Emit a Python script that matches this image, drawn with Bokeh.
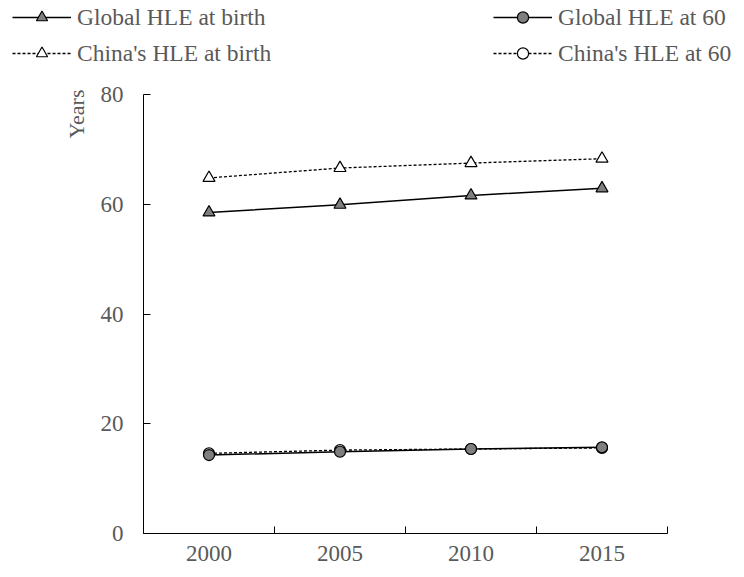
from bokeh.plotting import figure
from bokeh.models import Range1d, FixedTicker, Legend, LegendItem, Title
from bokeh.embed import file_html
from bokeh.resources import INLINE

years = [2000, 2005, 2010, 2015]
minor_bounds = [1997.5, 2002.5, 2007.5, 2012.5, 2017.5]
global_birth = [58.5, 59.9, 61.6, 62.9]
china_birth = [64.8, 66.6, 67.5, 68.3]
global_60 = [14.3, 14.9, 15.4, 15.7]
china_60 = [14.6, 15.2, 15.4, 15.6]
y_ticks = [0, 20, 40, 60, 80]
labels = ["Global HLE at birth", "China's HLE at birth",
          "Global HLE at 60", "China's HLE at 60"]

FONT = "Liberation Serif, Times New Roman, serif"
TXT = "#595959"
GREY = "#7f7f7f"
DASH = "3 2"

p = figure(width=728, height=489, output_backend="svg", toolbar_location=None,
           x_range=Range1d(1997.5, 2017.5), y_range=Range1d(0, 80),
           min_border_left=143, min_border_right=61, min_border_top=14,
           min_border_bottom=36)
p.outline_line_color = None
p.grid.visible = False

xa = p.xaxis[0]
xa.ticker = FixedTicker(ticks=years, minor_ticks=minor_bounds)
xa.major_tick_in = 0
xa.major_tick_out = 0
xa.minor_tick_in = 7
xa.minor_tick_out = 0
xa.minor_tick_line_color = "black"
xa.axis_line_color = "black"
xa.major_label_text_font = FONT
xa.major_label_text_font_size = "23px"
xa.major_label_text_color = TXT
xa.major_label_standoff = 12

ya = p.yaxis[0]
ya.ticker = FixedTicker(ticks=y_ticks)
ya.major_tick_in = 7
ya.major_tick_out = 0
ya.minor_tick_in = 0
ya.minor_tick_out = 0
ya.axis_line_color = "black"
ya.major_tick_line_color = "black"
ya.major_label_text_font = FONT
ya.major_label_text_font_size = "23px"
ya.major_label_text_color = TXT
ya.major_label_standoff = 20

p.add_layout(Title(text="Years", align="right", text_font=FONT, text_font_size="22px",
                   text_font_style="normal", text_color=TXT, standoff=18, offset=-5),
             "left")


def draw(fig, xs, ys, dashed, marker, filled):
    ln = fig.line(xs, ys, line_color="black", line_width=1.3 if dashed else 1.5,
                  line_dash=DASH if dashed else "solid")
    mk = fig.scatter(xs, ys, marker=marker, size=12 if marker == "triangle" else 11,
                     fill_color=GREY if filled else "white", line_color="black",
                     line_width=1.2)
    return [ln, mk]


draw(p, years, china_birth, True, "triangle", False)
draw(p, years, global_birth, False, "triangle", True)
draw(p, years, china_60, True, "circle", False)
draw(p, years, global_60, False, "circle", True)

# legend strip above the chart (separate root so its frame spans the full width);
# the series are drawn there outside the visible range, only to feed the legend
lf = figure(width=744, height=80, output_backend="svg", toolbar_location=None,
            title=None, x_range=Range1d(0, 1), y_range=Range1d(0, 1),
            x_axis_location=None, y_axis_location=None,
            min_border_left=0, min_border_right=0, min_border_top=0, min_border_bottom=0)
lf.outline_line_color = None
lf.grid.visible = False

r_gb = draw(lf, years, global_birth, False, "triangle", True)
r_cb = draw(lf, years, china_birth, True, "triangle", False)
r_g6 = draw(lf, years, global_60, False, "circle", True)
r_c6 = draw(lf, years, china_60, True, "circle", False)


def mk_legend(items, loc):
    lg = Legend(items=items, location=loc, orientation="vertical",
                border_line_alpha=0, background_fill_alpha=0, padding=0, margin=0,
                glyph_width=59, glyph_height=28, label_height=28, spacing=8,
                label_standoff=6, label_text_font=FONT, label_text_font_size="23.5px",
                label_text_color=TXT, label_text_baseline="middle")
    lf.add_layout(lg, "center")


mk_legend([LegendItem(label=labels[0], renderers=r_gb),
           LegendItem(label=labels[1], renderers=r_cb)], (12, 13))
mk_legend([LegendItem(label=labels[2], renderers=r_g6),
           LegendItem(label=labels[3], renderers=r_c6)], (493, 13))

open("out.html", "w").write(file_html([lf, p], INLINE))
